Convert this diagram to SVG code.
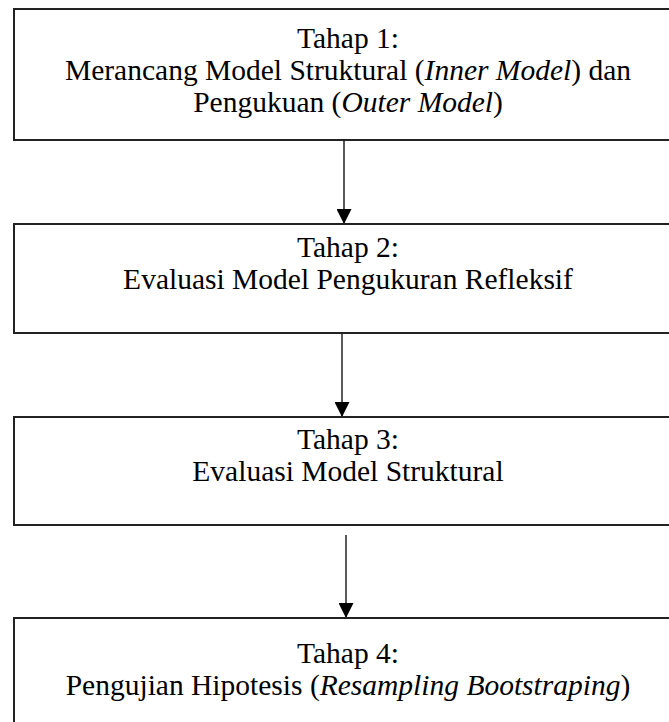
<svg xmlns="http://www.w3.org/2000/svg" width="669" height="722" viewBox="0 0 669 722">
<defs>
<style>
.box{fill:#fff;stroke:#222;stroke-width:2}
.t{font-family:"Liberation Serif","Times New Roman",serif;font-size:29.5px;fill:#000;text-anchor:middle}
.i{font-style:italic}
.c{stroke:#000;stroke-width:1.3;fill:none;marker-end:url(#ah)}
</style>
<marker id="ah" markerWidth="15" markerHeight="15" refX="15" refY="7.5" orient="auto" markerUnits="userSpaceOnUse">
<path d="M0,0 L15,7.5 L0,15 Z" fill="#000"/>
</marker>
</defs>
<rect width="669" height="722" fill="#fff"/>
<g id="connectors">
<line class="c" x1="344" y1="140" x2="344" y2="224"/>
<line class="c" x1="342" y1="333" x2="342" y2="417"/>
<line class="c" x1="346" y1="535" x2="346" y2="618"/>
</g>
<g id="tahap1">
<rect class="box" x="14" y="9" width="670" height="131"/>
<text class="t" x="348" y="48">Tahap 1:</text>
<text class="t" x="348" y="80">Merancang Model Struktural (<tspan class="i">Inner Model</tspan>) dan</text>
<text class="t" x="348" y="112">Pengukuan (<tspan class="i">Outer Model</tspan>)</text>
</g>
<g id="tahap2">
<rect class="box" x="14" y="224" width="670" height="109"/>
<text class="t" x="348" y="257">Tahap 2:</text>
<text class="t" x="348" y="289">Evaluasi Model Pengukuran Refleksif</text>
</g>
<g id="tahap3">
<rect class="box" x="14" y="417" width="670" height="108"/>
<text class="t" x="348" y="449">Tahap 3:</text>
<text class="t" x="348" y="481">Evaluasi Model Struktural</text>
</g>
<g id="tahap4">
<rect class="box" x="14" y="618" width="670" height="120"/>
<text class="t" x="348" y="663">Tahap 4:</text>
<text class="t" x="348" y="695">Pengujian Hipotesis (<tspan class="i">Resampling Bootstraping</tspan>)</text>
</g>
</svg>
